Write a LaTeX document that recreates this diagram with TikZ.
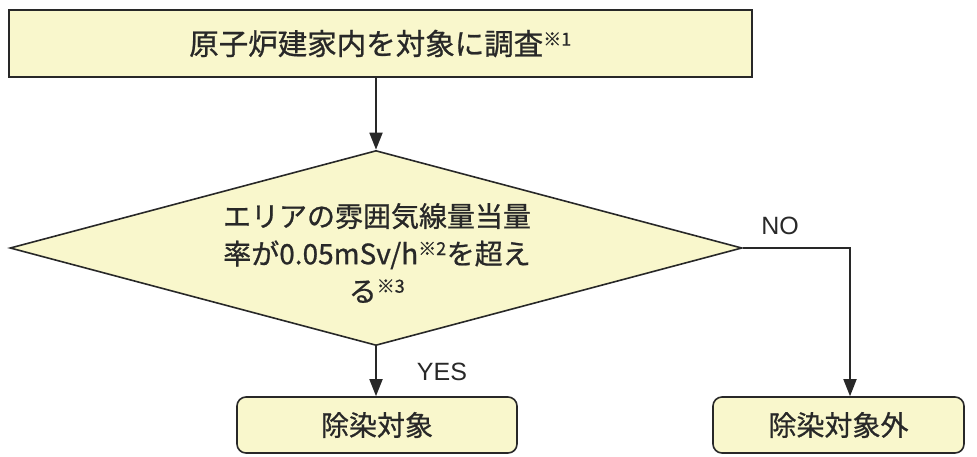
\documentclass[tikz,border=0pt]{standalone}
\usepackage{fontspec}
\setmainfont[FakeBold=0.8]{Noto Sans CJK JP}
\newfontfamily\latinfont{Liberation Sans}
\usetikzlibrary{arrows.meta,shapes.geometric}
\definecolor{boxfill}{RGB}{249,247,204}
\definecolor{edge}{RGB}{40,40,40}
\newcommand{\kome}[1]{\textsuperscript{\fontsize{18pt}{18pt}\selectfont ※#1}}
\tikzset{
  procbox/.style={draw=edge, line width=1.6pt, fill=boxfill, inner sep=0pt, font=\fontsize{28pt}{34pt}\selectfont, text=edge},
  endbox/.style={procbox, rounded corners=9pt},
  conn/.style={draw=edge, line width=1.8pt, -{Triangle[length=17pt,width=13pt]}},
  lbl/.style={font=\latinfont\fontsize{25pt}{28pt}\selectfont, text=edge}
}
\begin{document}
\begin{tikzpicture}[x=1pt,y=-1pt]
\useasboundingbox (0,0) rectangle (977,456);
\node[procbox, minimum width=743pt, minimum height=67pt, font=\fontsize{29.5pt}{34pt}\selectfont] (top) at (380.5,43.5) {原子炉建家内を対象に調査\kome{1}};
\node[draw=edge, line width=1.6pt, fill=boxfill, shape=diamond, minimum width=732pt, minimum height=195pt, inner sep=0pt] (dia) at (376,248) {};
\node[align=center, text=edge, font=\fontsize{28pt}{37.5pt}\selectfont] (dtext) at (377,253) {エリアの雰囲気線量当量\\率が0.05mSv/h\kome{2}を超え\\る\kome{3}};
\node[endbox, minimum width=280pt, minimum height=56pt] (yesbox) at (377,425) {除染対象};
\node[endbox, minimum width=251pt, minimum height=56pt] (nobox) at (838.5,425) {除染対象外};
\coordinate (turn) at (850,248);
\draw[conn] (top.south -| dia.north) -- (dia.north);
\draw[conn] (dia.south) -- (dia.south |- yesbox.north);
\draw[conn] (dia.east) -- (turn) -- (turn |- nobox.north);
\node[lbl] (no) at (780,226) {NO};
\node[lbl] (yes) at (442,372) {YES};
\end{tikzpicture}
\end{document}
